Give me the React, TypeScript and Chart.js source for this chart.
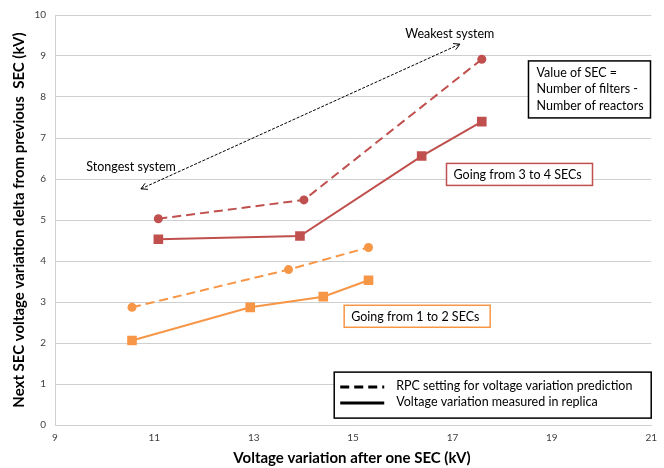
import React, { useEffect, useRef } from "react";
import { Chart, registerables } from "chart.js";

Chart.register(...registerables);

// ---- data ----
const xTickValues = [9, 11, 13, 15, 17, 19, 21];
const yTickValues = [0, 1, 2, 3, 4, 5, 6, 7, 8, 9, 10];

const rpc34X = [11.08, 14.01, 17.59];
const rpc34Y = [5.03, 5.49, 8.92];
const meas34X = [11.08, 13.93, 16.38, 17.59];
const meas34Y = [4.53, 4.61, 6.56, 7.4];
const rpc12X = [10.55, 13.7, 15.31];
const rpc12Y = [2.87, 3.79, 4.33];
const meas12X = [10.55, 12.93, 14.4, 15.31];
const meas12Y = [2.06, 2.87, 3.13, 3.53];

const xTitle = "Voltage variation after one SEC (kV)";
const yTitle = "Next SEC voltage variation delta from previous  SEC (kV)";
const secNote = ["Value of SEC =", "Number of filters -", "Number of reactors"];
const box34 = "Going from 3 to 4 SECs";
const box12 = "Going from 1 to 2 SECs";
const strongLabel = "Stongest system";
const weakLabel = "Weakest system";
const legendLabels = ["RPC setting for voltage variation prediction", "Voltage variation measured in replica"];

const RED = "#C0504D";
const ORANGE = "#F79646";
const FONT = "Lato, 'Open Sans', sans-serif";
const TXT = `12.5px ${FONT}`;

const toPts = (xs: number[], ys: number[]) => xs.map((x, i) => ({ x, y: ys[i] }));

const annotPlugin = {
  id: "annot",
  afterDraw(chart: any) {
    const ctx: CanvasRenderingContext2D = chart.ctx;
    const xs = chart.scales.x;
    const ys = chart.scales.y;
    const px = (v: number) => xs.getPixelForValue(v);
    const py = (v: number) => ys.getPixelForValue(v);
    const ca = chart.chartArea;
    ctx.save();

    // axis titles
    ctx.fillStyle = "#000";
    ctx.font = `bold 15px ${FONT}`;
    ctx.textAlign = "center";
    ctx.textBaseline = "middle";
    ctx.fillText(xTitle, 352, 458);
    ctx.save();
    ctx.translate(19, (ca.top + ca.bottom) / 2);
    ctx.rotate(-Math.PI / 2);
    ctx.fillText(yTitle, 0, 0);
    ctx.restore();

    // double arrow
    const ax1 = px(10.73), ay1 = py(5.76);
    const ax2 = px(17.15), ay2 = py(9.29);
    ctx.strokeStyle = "#000";
    ctx.lineWidth = 1;
    ctx.setLineDash([3, 1.5]);
    ctx.beginPath();
    ctx.moveTo(ax1, ay1);
    ctx.lineTo(ax2, ay2);
    ctx.stroke();
    ctx.setLineDash([]);
    const ang = Math.atan2(ay2 - ay1, ax2 - ax1);
    const head = (x: number, y: number, a: number) => {
      ctx.beginPath();
      ctx.moveTo(x + 7 * Math.cos(a + 0.5), y + 7 * Math.sin(a + 0.5));
      ctx.lineTo(x, y);
      ctx.lineTo(x + 7 * Math.cos(a - 0.5), y + 7 * Math.sin(a - 0.5));
      ctx.stroke();
    };
    head(ax2, ay2, ang + Math.PI);
    head(ax1, ay1, ang);

    // labels
    ctx.font = TXT;
    ctx.textAlign = "left";
    ctx.fillStyle = "#000";
    ctx.fillText(weakLabel, px(16.05), py(9.54));
    ctx.fillText(strongLabel, px(9.63), py(6.3));

    const box = (x0: number, y0: number, w: number, h: number, color: string, lw: number) => {
      ctx.fillStyle = "#fff";
      ctx.fillRect(x0, y0, w, h);
      ctx.strokeStyle = color;
      ctx.lineWidth = lw;
      ctx.strokeRect(x0, y0, w, h);
    };

    // SEC note box
    const nx = px(18.53), ny = py(8.88);
    box(nx, ny, 122, 57, "#000", 1.5);
    ctx.fillStyle = "#000";
    ctx.font = TXT;
    secNote.forEach((t, i) => ctx.fillText(t, nx + 8, ny + 12 + i * 16.5));

    // 3 to 4
    const b34x = px(16.88), b34y = py(6.38);
    box(b34x, b34y, 146, 22, RED, 1.5);
    ctx.fillStyle = "#000";
    ctx.fillText(box34, b34x + 7, b34y + 12);

    // 1 to 2
    const b12x = px(14.82), b12y = py(2.92);
    box(b12x, b12y, 146, 22, ORANGE, 1.5);
    ctx.fillStyle = "#000";
    ctx.fillText(box12, b12x + 7, b12y + 12);

    // legend
    const lx = px(14.62), ly = py(1.29);
    box(lx, ly, 317, 46, "#000", 1.5);
    ctx.strokeStyle = "#000";
    ctx.lineWidth = 3;
    ctx.setLineDash([9, 5]);
    ctx.beginPath();
    ctx.moveTo(lx + 6, ly + 15);
    ctx.lineTo(lx + 50, ly + 15);
    ctx.stroke();
    ctx.setLineDash([]);
    ctx.beginPath();
    ctx.moveTo(lx + 6, ly + 31);
    ctx.lineTo(lx + 50, ly + 31);
    ctx.stroke();
    ctx.fillStyle = "#000";
    ctx.font = TXT;
    ctx.fillText(legendLabels[0], lx + 62, ly + 14);
    ctx.fillText(legendLabels[1], lx + 62, ly + 30);

    ctx.restore();
  },
};

export default function App() {
  const ref = useRef<HTMLCanvasElement | null>(null);
  useEffect(() => {
    if (!ref.current) return;
    const chart = new Chart(ref.current, {
      type: "scatter",
      data: {
        datasets: [
          {
            data: toPts(rpc34X, rpc34Y),
            showLine: true,
            borderColor: RED,
            backgroundColor: RED,
            borderWidth: 2,
            borderDash: [9, 5],
            pointStyle: "circle",
            pointRadius: 4.5,
            pointBorderWidth: 0,
          },
          {
            data: toPts(meas34X, meas34Y),
            showLine: true,
            borderColor: RED,
            backgroundColor: RED,
            borderWidth: 2,
            pointStyle: "rect",
            pointRadius: 6.8,
            pointBorderWidth: 0,
          },
          {
            data: toPts(rpc12X, rpc12Y),
            showLine: true,
            borderColor: ORANGE,
            backgroundColor: ORANGE,
            borderWidth: 2,
            borderDash: [9, 5],
            pointStyle: "circle",
            pointRadius: 4.5,
            pointBorderWidth: 0,
          },
          {
            data: toPts(meas12X, meas12Y),
            showLine: true,
            borderColor: ORANGE,
            backgroundColor: ORANGE,
            borderWidth: 2,
            pointStyle: "rect",
            pointRadius: 6.8,
            pointBorderWidth: 0,
          },
        ],
      },
      options: {
        animation: false,
        responsive: false,
        layout: { padding: { top: 14, right: 7, left: 0, bottom: 0 } },
        plugins: { legend: { display: false }, tooltip: { enabled: false } },
        scales: {
          x: {
            type: "linear",
            min: 9,
            max: 21,
            afterBuildTicks: (s: any) => {
              s.ticks = xTickValues.map((v) => ({ value: v }));
            },
            afterFit: (s: any) => {
              s.height = 43;
            },
            grid: { display: false, drawTicks: false },
            border: { display: true, color: "#d0d0d0", width: 1 },
            ticks: { color: "#404040", font: { family: FONT, size: 10 }, padding: 7, maxRotation: 0 },
          },
          y: {
            type: "linear",
            min: 0,
            max: 10,
            afterBuildTicks: (s: any) => {
              s.ticks = yTickValues.map((v) => ({ value: v }));
            },
            afterFit: (s: any) => {
              s.width = 55;
            },
            grid: { color: "#cfcfcf", drawTicks: false, lineWidth: 1 },
            border: { display: true, color: "#d0d0d0", width: 1 },
            ticks: { color: "#404040", font: { family: FONT, size: 10 }, padding: 9 },
          },
        },
      },
      plugins: [annotPlugin],
    });
    return () => chart.destroy();
  }, []);
  return (
    <div style={{ position: "fixed", left: 0, top: 0, width: 664, height: 468, background: "#fff" }}>
      <canvas ref={ref} width={664} height={468} style={{ width: 664, height: 468 }} />
    </div>
  );
}
